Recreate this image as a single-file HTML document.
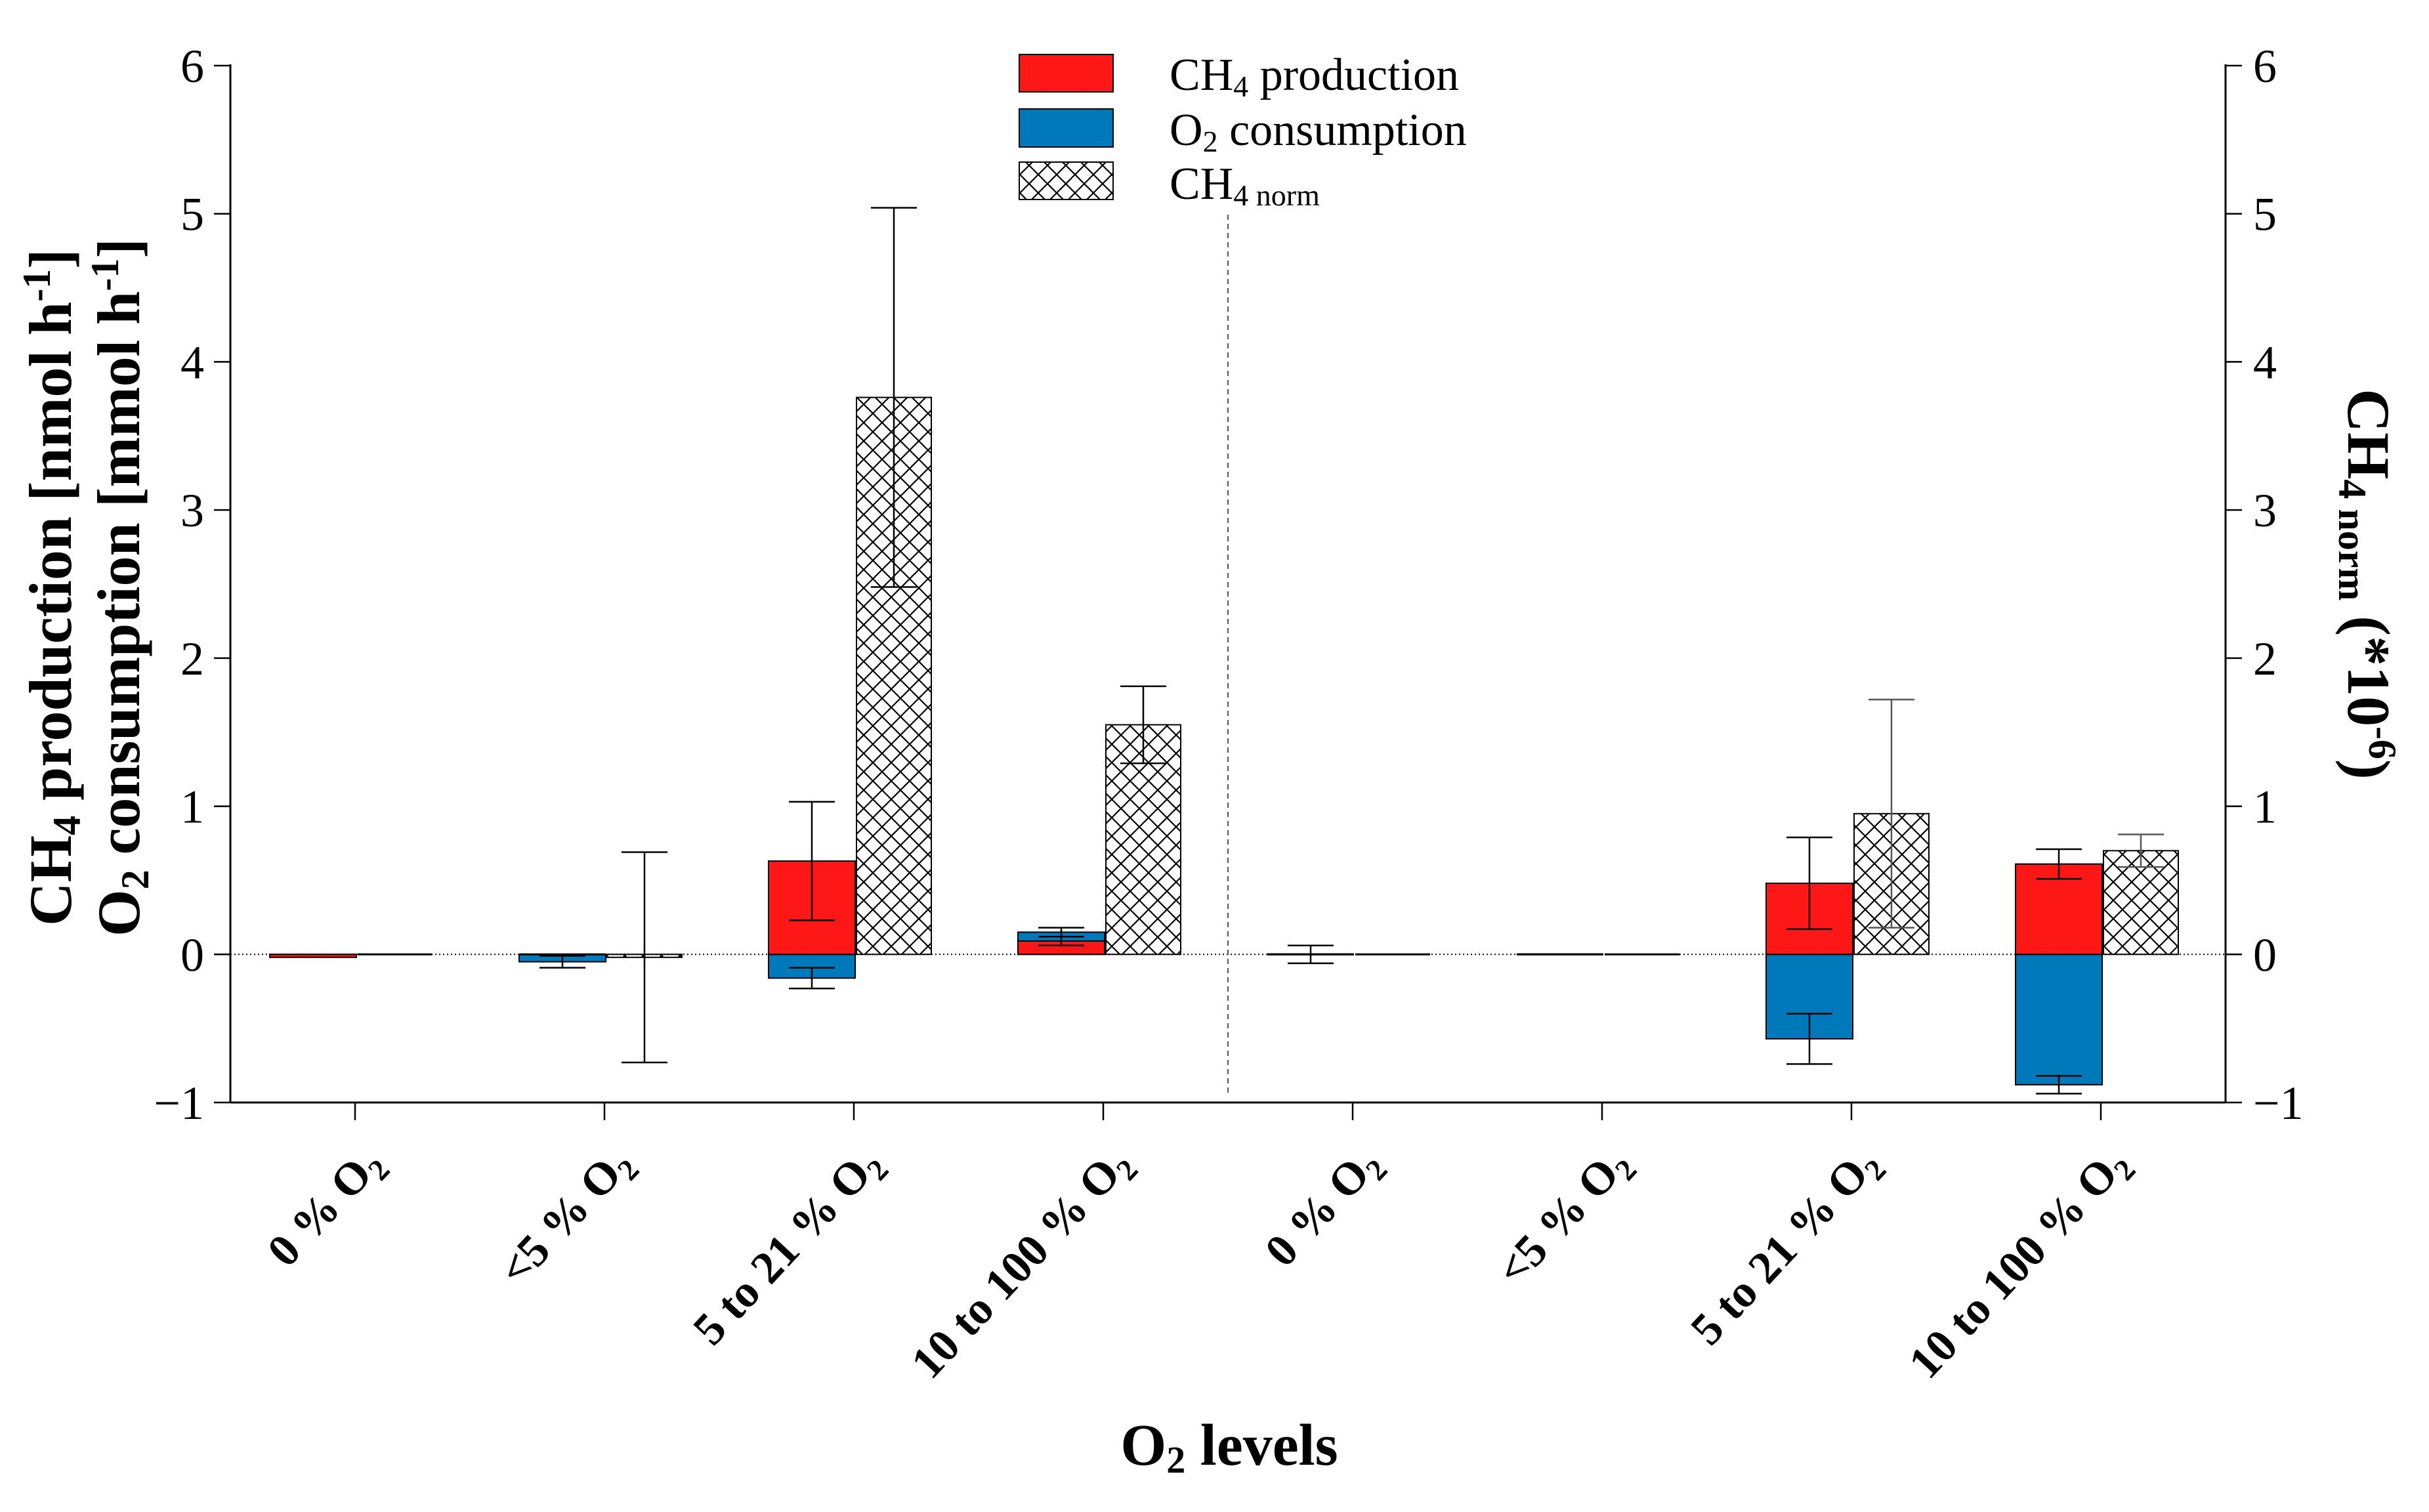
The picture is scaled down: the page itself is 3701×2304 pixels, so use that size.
<!DOCTYPE html>
<html><head><meta charset="utf-8">
<style>
html,body{margin:0;padding:0;background:#fff;}
svg{display:block;font-family:"Liberation Serif","DejaVu Serif",serif;}
</style></head>
<body>
<svg id="chart" width="3701" height="2304" viewBox="0 0 3701 2304" xmlns="http://www.w3.org/2000/svg">
<defs>
<pattern id="hatch" patternUnits="userSpaceOnUse" width="28" height="28">
<rect width="28" height="28" fill="#fff"/>
<path d="M0,0 L28,28 M28,0 L0,28" stroke="#000" stroke-width="2.2"/>
</pattern>
</defs>
<g id="plot"></g>
</svg>
<script>
const categories = ["0 % O2","<5 % O2","5 to 21 % O2","10 to 100 % O2","0 % O2","<5 % O2","5 to 21 % O2","10 to 100 % O2"];
const ch4Prod = [-0.02, 0, 0.63, 0.09, 0, 0, 0.48, 0.61];
const ch4ProdErr = [0, 0, 0.40, 0.03, 0.06, 0, 0.31, 0.10];
const o2Cons = [-0.01, -0.05, -0.16, 0.15, 0, 0, -0.57, -0.88];
const o2ConsErr = [0, 0.04, 0.07, 0.03, 0, 0, 0.17, 0.06];
const ch4Norm = [0, -0.02, 3.76, 1.55, 0, 0, 0.95, 0.70];
const ch4NormErr = [0, 0.71, 1.28, 0.26, 0, 0, 0.77, 0.11];
const yTicks = [-1, 0, 1, 2, 3, 4, 5, 6];

const NS = "http://www.w3.org/2000/svg";
const g = document.getElementById("plot");
const X0 = 351, X1 = 3391, Y6 = 100, YM1 = 1680;
function yS(v){ return YM1 - (v + 1) * (YM1 - Y6) / 7; }
function xTick(i){ return X0 + (X1 - X0) / categories.length * (i + 0.5); }
function mk(tag, attrs, text){
  const e = document.createElementNS(NS, tag);
  for (const k in attrs) e.setAttribute(k, attrs[k]);
  if (text !== undefined) e.textContent = text;
  g.appendChild(e);
  return e;
}
function line(x1,y1,x2,y2,extra){
  return mk("line", Object.assign({x1:x1,y1:y1,x2:x2,y2:y2,stroke:"#000","stroke-width":2.5}, extra||{}));
}
function bar(x0,x1,v,fill){
  const y0 = yS(0), yv = yS(v);
  if (Math.abs(yv - y0) < 2) return line(x0, y0, x1, y0, {"stroke-width":3});
  return mk("rect",{x:x0,y:Math.min(y0,yv),width:x1-x0,height:Math.abs(yv-y0),fill:fill,stroke:"#000","stroke-width":2});
}
function errBar(xc,v,e,color){
  if (e <= 0) return null;
  const c = color || "#000";
  const a = line(xc, yS(v+e), xc, yS(v-e), {stroke:c});
  
  
  const t = line(xc-35, yS(v+e), xc+35, yS(v+e), {stroke:c});
  
  
  const b = line(xc-35, yS(v-e), xc+35, yS(v-e), {stroke:c});
  
  
}

categories.forEach((c,i)=>{
  const t = xTick(i);
  const b1 = bar(t-130, t+2, o2Cons[i], "#0079bb");
  
  
  const b2 = bar(t-130, t+2, ch4Prod[i], "#fe1717");
  
  
  const b3 = bar(t+4, t+118, ch4Norm[i], "url(#hatch)");
  
  
  errBar(t-64, o2Cons[i], o2ConsErr[i]);
  errBar(t-64, ch4Prod[i], ch4ProdErr[i]);
  errBar(t+61, ch4Norm[i], ch4NormErr[i], i >= 4 ? "#555" : "#000");
});

const z = line(X0, yS(0), X1, yS(0), {"stroke-width":2, "stroke-dasharray":"2,4"});


const dv = line(1871, 327, 1871, 1665, {"stroke-width":2, stroke:"#555", "stroke-dasharray":"8,6"});



const la = line(X0, Y6-2, X0, YM1, {"stroke-width":3});


const ra = line(X1, Y6-2, X1, YM1, {"stroke-width":3});


const xa = line(X0, YM1, X1, YM1, {"stroke-width":3});



yTicks.forEach(v=>{
  const y = yS(v);
  line(X0-25, y, X0, y);
  line(X1, y, X1+25, y);
  const lbl = (v < 0 ? "\u2212" + (-v) : String(v));
  const l = mk("text",{x:X0-40,y:y+25,"text-anchor":"end","font-size":72},lbl);
  
  
  const r = mk("text",{x:X1+42,y:y+25,"text-anchor":"start","font-size":72},lbl);
  
  
});

categories.forEach((c,i)=>{
  const t = xTick(i);
  line(t, YM1, t, YM1+27);
  const tx = t + 45, ty = 1775;
  const el = mk("text",{x:tx,y:ty,"text-anchor":"end","font-size":70,"font-weight":"bold",transform:`rotate(-47 ${tx} ${ty}) scale(1,1.12)`});
  
  
  el.setAttribute('transform', `rotate(-47 ${tx} ${ty})`);
  const base = c.replace(/O2$/,"O");
  el.appendChild(document.createTextNode(base));
  const s = document.createElementNS(NS,"tspan");
  s.setAttribute("font-size","46"); s.setAttribute("dy","14");
  s.textContent = "2";
  el.appendChild(s);
});
</script>
<svg style="position:absolute;left:0;top:0" width="3701" height="2304" xmlns="http://www.w3.org/2000/svg" font-family="Liberation Serif, DejaVu Serif, serif">
  <g>
    <rect x="1553" y="83" width="143" height="57" fill="#fe1717" stroke="#000" stroke-width="2"/>
    <rect x="1553" y="166" width="143" height="58" fill="#0079bb" stroke="#000" stroke-width="2"/>
    <rect x="1553" y="247" width="143" height="57" fill="url(#hatch)" stroke="#000" stroke-width="2"/>
    <text x="1782" y="137" font-size="70">CH<tspan font-size="46" dy="10">4</tspan><tspan dy="-10"> production</tspan></text>
    <text x="1782" y="221" font-size="70">O<tspan font-size="46" dy="10">2</tspan><tspan dy="-10"> consumption</tspan></text>
    <text x="1782" y="303" font-size="70">CH<tspan font-size="46" dy="10">4 norm</tspan></text>
  </g>
  <g font-weight="bold" font-size="92">
    <text transform="rotate(-90 108 895)" x="108" y="895" text-anchor="middle">CH<tspan font-size="60" dy="14">4</tspan><tspan dy="-14"> production [nmol h</tspan><tspan font-size="60" dy="-32">-1</tspan><tspan dy="32">]</tspan></text>
    <text transform="rotate(-90 212 895)" x="212" y="895" text-anchor="middle">O<tspan font-size="60" dy="14">2</tspan><tspan dy="-14"> consumption [mmol h</tspan><tspan font-size="60" dy="-32">-1</tspan><tspan dy="32">]</tspan></text>
  </g>
  <text transform="rotate(90 3578 890)" x="3578" y="890" text-anchor="middle" font-weight="bold" font-size="92">CH<tspan font-size="60" dy="14">4 norm</tspan><tspan dy="-14"> (*10</tspan><tspan font-size="60" dy="-32">-6</tspan><tspan dy="32">)</tspan></text>
  <text x="1873" y="2232" text-anchor="middle" font-weight="bold" font-size="90">O<tspan font-size="58" dy="12">2</tspan><tspan dy="-12"> levels</tspan></text>
</svg>
</body></html>
